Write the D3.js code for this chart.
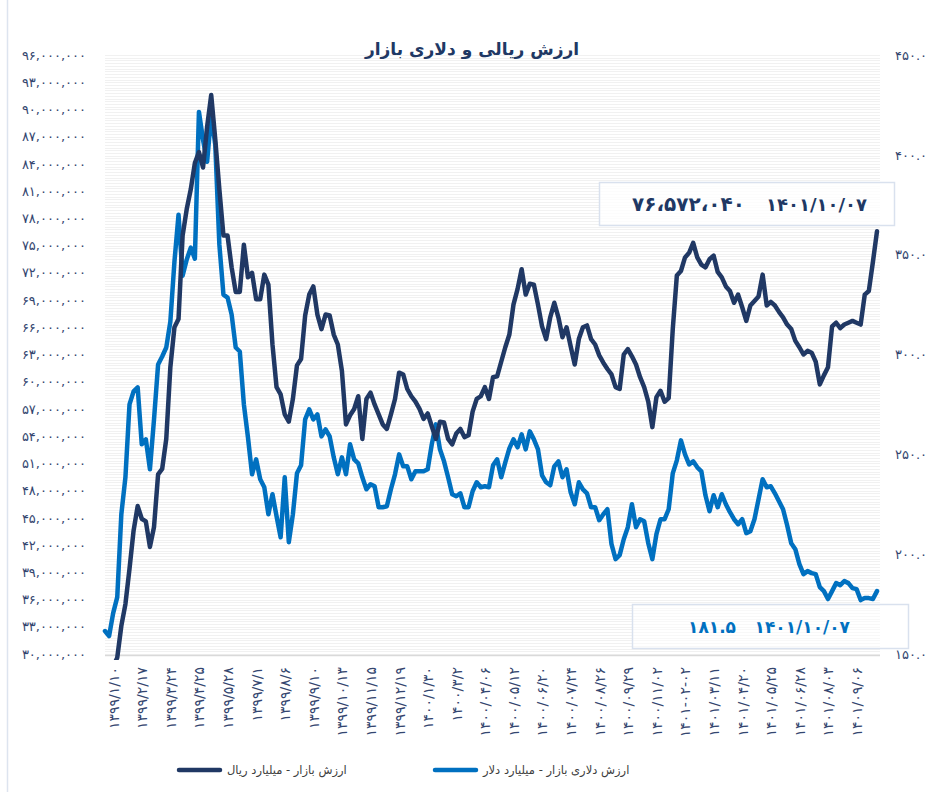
<!DOCTYPE html>
<html>
<head>
<meta charset="utf-8">
<script src="https://cdn.jsdelivr.net/npm/d3@7"></script>
<style>
  body { margin: 0; background: #fff; }
  svg { display: block; font-family: "DejaVu Sans", sans-serif; }
</style>
</head>
<body>
<svg id="chart" width="935" height="792"></svg>
<script>
// tick labels on the date axis (one every 7 samples, starting at sample 2)
var xLabels = ["۱۳۹۹/۱/۱۰", "۱۳۹۹/۲/۱۷", "۱۳۹۹/۳/۲۴", "۱۳۹۹/۴/۲۵", "۱۳۹۹/۵/۲۸", "۱۳۹۹/۷/۱",
  "۱۳۹۹/۸/۶", "۱۳۹۹/۹/۱۰", "۱۳۹۹/۱۰/۱۳", "۱۳۹۹/۱۱/۱۵", "۱۳۹۹/۱۲/۱۹", "۱۴۰۰/۱/۳۰",
  "۱۴۰۰/۳/۲", "۱۴۰۰/۰۴/۰۶", "۱۴۰۰/۰۵/۱۲", "۱۴۰۰/۰۶/۲۰", "۱۴۰۰/۰۷/۲۴", "۱۴۰۰/۰۸/۲۶",
  "۱۴۰۰/۰۹/۲۹", "۱۴۰۰/۱۱/۰۲", "۱۴۰۱-۰۲-۰۲", "۱۴۰۱/۰۳/۱۱", "۱۴۰۱/۰۴/۲۰", "۱۴۰۱/۰۵/۲۵",
  "۱۴۰۱/۰۶/۲۸", "۱۴۰۱/۰۸/۰۳", "۱۴۰۱/۰۹/۰۶"];
var labelStart = 2, labelStep = 7;

// market value, million (axis unit is shown x 1,000,000)
var rialValues = [
  27.0, 27.8, 28.6, 29.6, 33.1, 35.5, 39.4, 43.6, 46.3, 44.9,
  44.6, 41.8, 44.0, 49.8, 50.4, 53.7, 61.6, 66.0, 66.9, 76.1,
  79.0, 81.2, 84.1, 85.3, 83.6, 88.1, 91.6, 86.7, 81.2, 76.1,
  76.1, 72.6, 69.9, 69.9, 75.1, 71.5, 72.0, 69.1, 69.1, 71.8,
  70.7, 64.1, 59.4, 58.6, 56.4, 55.6, 58.1, 61.8, 62.5, 67.3,
  69.6, 70.5, 67.4, 65.8, 67.4, 67.3, 65.2, 64.1, 61.2, 55.3,
  56.3, 57.0, 58.4, 53.7, 58.1, 58.8, 57.5, 56.4, 55.3, 54.8,
  56.4, 58.1, 61.0, 60.8, 59.2, 58.4, 57.8, 57.0, 55.9, 56.5,
  55.1, 53.7, 55.6, 55.5, 53.7, 53.1, 54.3, 54.8, 53.9, 54.1,
  56.7, 58.1, 58.4, 59.4, 58.1, 60.5, 60.6, 62.2, 63.8, 65.2,
  68.5, 70.2, 72.4, 69.6, 70.8, 70.7, 68.5, 66.1, 64.7, 67.1,
  68.7, 67.1, 64.9, 66.0, 63.9, 61.9, 64.7, 66.0, 66.2, 64.7,
  64.1, 62.9, 62.1, 61.4, 60.8, 59.4, 59.2, 63.0, 63.6, 62.8,
  61.9, 60.5, 59.4, 57.8, 55.0, 58.3, 59.0, 57.8, 58.2, 65.8,
  71.7, 72.2, 73.7, 74.2, 75.3, 73.7, 72.9, 72.6, 73.5, 73.9,
  72.1, 71.5, 70.5, 70.0, 68.7, 69.6, 68.2, 66.7, 68.4, 68.9,
  69.4, 71.8, 68.4, 68.8, 68.4, 67.7, 67.1, 66.3, 65.8, 64.5,
  63.8, 63.0, 63.4, 63.2, 62.2, 59.7, 60.7, 61.6, 66.1, 66.5,
  65.9, 66.3, 66.5, 66.7, 66.5, 66.3, 69.6, 70.0, 73.2, 76.572
];

// dollar market value, billion dollars
var dollarValues = [
  161.5, 159.0, 170.5, 178.5, 220.0, 238.5, 275.0, 281.5, 283.5, 255.0,
  257.5, 242.5, 267.5, 295.0, 299.0, 303.5, 316.5, 346.5, 370.0, 339.5,
  347.5, 353.5, 348.0, 421.5, 407.5, 396.5, 420.0, 405.0, 355.0, 330.0,
  328.5, 320.0, 303.5, 301.5, 275.0, 258.5, 240.0, 247.5, 237.5, 233.5,
  220.0, 230.0, 219.0, 208.5, 238.5, 206.0, 220.0, 240.5, 244.5, 267.5,
  272.5, 267.5, 270.0, 259.0, 262.5, 259.0, 248.5, 240.0, 248.5, 240.0,
  255.0, 247.5, 245.5, 238.5, 232.5, 235.0, 234.0, 223.5, 223.5, 224.0,
  232.5, 240.0, 250.0, 244.0, 244.0, 237.5, 241.5, 241.5, 241.5, 242.5,
  255.0, 265.0, 252.5, 246.5, 238.5, 230.0, 229.0, 230.5, 223.5, 223.5,
  231.5, 236.0, 233.5, 234.0, 233.5, 244.5, 247.5, 238.5, 246.0, 253.0,
  257.5, 253.5, 260.0, 252.5, 261.5, 257.5, 252.5, 239.5, 236.0, 234.5,
  244.0, 246.5, 238.5, 242.5, 231.0, 225.0, 236.0, 232.5, 230.5, 223.5,
  223.5, 217.0, 220.0, 222.5, 205.0, 197.5, 199.5, 207.5, 213.5, 225.0,
  213.5, 217.5, 216.5, 205.5, 197.5, 210.0, 217.5, 217.5, 222.5, 240.5,
  247.0, 257.0, 250.0, 245.0, 246.5, 243.5, 241.5, 229.5, 221.5, 229.5,
  223.5, 230.0, 225.0, 221.0, 217.5, 215.0, 217.5, 210.5, 211.5, 217.5,
  227.5, 237.5, 233.5, 234.0, 230.5, 226.5, 222.5, 214.5, 205.5, 202.5,
  195.0, 190.0, 191.5, 190.5, 190.0, 183.5, 181.5, 177.5, 181.5, 185.5,
  184.5, 186.5, 185.5, 183.0, 182.5, 177.0, 178.0, 178.0, 177.5, 181.5
];

var leftTicks = d3.range(30, 97, 3);
var rightTicks = [150, 200, 250, 300, 350, 400, 450];

var title = "ارزش ریالی و دلاری بازار";
var rialName = "ارزش بازار - میلیارد ریال";
var dollarName = "ارزش دلاری بازار - میلیارد دلار";
var lastDate = "۱۴۰۱/۱۰/۰۷";
var lastRialText = "۷۶،۵۷۲،۰۴۰";
var lastDollarText = "۱۸۱.۵";

var darkBlue = "#203864", blue = "#0070c0", axisText = "#34466f";

function fa(s) {
  return String(s).replace(/[0-9]/g, function(d) { return "۰۱۲۳۴۵۶۷۸۹"[+d]; });
}

var svg = d3.select("#chart");
var plotTop = 55, plotBottom = 654, plotLeft = 105, plotRight = 880;

var x = d3.scaleLinear().domain([0, rialValues.length - 1]).range([105, 877]);
var yL = d3.scaleLinear().domain([30, 96]).range([plotBottom, plotTop]);
var yR = d3.scaleLinear().domain([150, 450]).range([plotBottom, plotTop]);

svg.append("rect").attr("width", 935).attr("height", 792).attr("fill", "#fff");
svg.append("line").attr("x1", 7.5).attr("x2", 7.5).attr("y1", 0).attr("y2", 792)
  .attr("stroke", "#dde4ef").attr("stroke-width", 1.5);

// faint striped gridlines
svg.append("g").selectAll("line")
  .data(d3.range(0, 221).map(function(k) { return 30 + k * 0.3; }))
  .enter().append("line")
  .attr("x1", plotLeft).attr("x2", plotRight)
  .attr("y1", function(d) { return Math.round(yL(d)) + 0.5; })
  .attr("y2", function(d) { return Math.round(yL(d)) + 0.5; })
  .attr("stroke", "#f1f1f1");

svg.append("line").attr("x1", plotLeft).attr("x2", plotRight).attr("y1", 655.5).attr("y2", 655.5)
  .attr("stroke", "#d9d9d9").attr("stroke-width", 1.5);

// title
svg.append("text").attr("x", 472).attr("y", 55).attr("text-anchor", "middle")
  .attr("font-size", 17).attr("font-weight", "bold").attr("fill", darkBlue).text(title);

// left axis
var gL = svg.append("g").attr("transform", "translate(" + 90 + ",0)")
  .call(d3.axisLeft(yL).tickValues(leftTicks).tickSize(0).tickPadding(4)
    .tickFormat(function(d) { return fa(d3.format(",")(Math.round(d * 1e6))); }));
gL.select(".domain").remove();
gL.selectAll("text").attr("font-size", 13).attr("fill", axisText).attr("font-family", "DejaVu Sans");

// right axis
var gR = svg.append("g").attr("transform", "translate(" + 891 + ",0)")
  .call(d3.axisRight(yR).tickValues(rightTicks).tickSize(0).tickPadding(4)
    .tickFormat(function(d) { return fa(d3.format(".1f")(d)); }));
gR.select(".domain").remove();
gR.selectAll("text").attr("font-size", 13).attr("fill", axisText).attr("font-family", "DejaVu Sans");

// bottom axis with rotated date labels
var tickIdx = xLabels.map(function(d, i) { return labelStart + i * labelStep; });
var gB = svg.append("g").attr("transform", "translate(0," + 655 + ")")
  .call(d3.axisBottom(x).tickValues(tickIdx).tickSize(0)
    .tickFormat(function(d, i) { return xLabels[i]; }));
gB.select(".domain").remove();
gB.selectAll("text")
  .attr("transform", "rotate(-90)")
  .attr("text-anchor", "end")
  .attr("x", -12).attr("y", 0).attr("dy", "0.35em")
  .attr("font-size", 14).attr("fill", axisText).attr("font-family", "DejaVu Sans");

// lines
svg.append("clipPath").attr("id", "plotclip").append("rect")
  .attr("x", 95).attr("y", 40).attr("width", 800).attr("height", 620);

var rialLine = d3.line().x(function(d, i) { return x(i); }).y(function(d) { return yL(d); });
var dollarLine = d3.line().x(function(d, i) { return x(i); }).y(function(d) { return yR(d); });

var lines = svg.append("g").attr("clip-path", "url(#plotclip)");
lines.append("path").datum(dollarValues).attr("d", dollarLine)
  .attr("fill", "none").attr("stroke", blue).attr("stroke-width", 4.5)
  .attr("stroke-linejoin", "round").attr("stroke-linecap", "round");
lines.append("path").datum(rialValues).attr("d", rialLine)
  .attr("fill", "none").attr("stroke", darkBlue).attr("stroke-width", 4.5)
  .attr("stroke-linejoin", "round").attr("stroke-linecap", "round");

// callout boxes
svg.append("rect").attr("x", 599.5).attr("y", 182.5).attr("width", 295).attr("height", 43)
  .attr("fill", "#fff").attr("fill-opacity", 0.75).attr("stroke", "#d9e1ee").attr("stroke-width", 1.5);
svg.append("text").attr("x", 632).attr("y", 211).attr("font-size", 20).attr("font-weight", "bold")
  .attr("fill", darkBlue).text(lastRialText);
svg.append("text").attr("x", 867).attr("y", 211).attr("text-anchor", "end").attr("font-size", 18)
  .attr("font-weight", "bold").attr("fill", darkBlue).text(lastDate);

svg.append("rect").attr("x", 632.5).attr("y", 604.5).attr("width", 276).attr("height", 44)
  .attr("fill", "#fff").attr("fill-opacity", 0.5).attr("stroke", "#d9e1ee").attr("stroke-width", 1.5);
svg.append("text").attr("x", 688).attr("y", 633).attr("font-size", 17).attr("font-weight", "bold")
  .attr("fill", blue).text(lastDollarText);
svg.append("text").attr("x", 850).attr("y", 633).attr("text-anchor", "end").attr("font-size", 17)
  .attr("font-weight", "bold").attr("fill", blue).text(lastDate);

// legend
var legend = [
  {name: rialName, color: darkBlue, x: 177},
  {name: dollarName, color: blue, x: 433}
];
var lg = svg.append("g").selectAll("g").data(legend).enter().append("g");
lg.append("line").attr("x1", function(d) { return d.x + 2; }).attr("x2", function(d) { return d.x + 43; })
  .attr("y1", 770).attr("y2", 770).attr("stroke", function(d) { return d.color; })
  .attr("stroke-width", 4.5).attr("stroke-linecap", "round");
lg.append("text").attr("x", function(d) { return d.x + 50; }).attr("y", 774)
  .attr("font-size", 11.5).attr("fill", "#404040").text(function(d) { return d.name; });
</script>
</body>
</html>
